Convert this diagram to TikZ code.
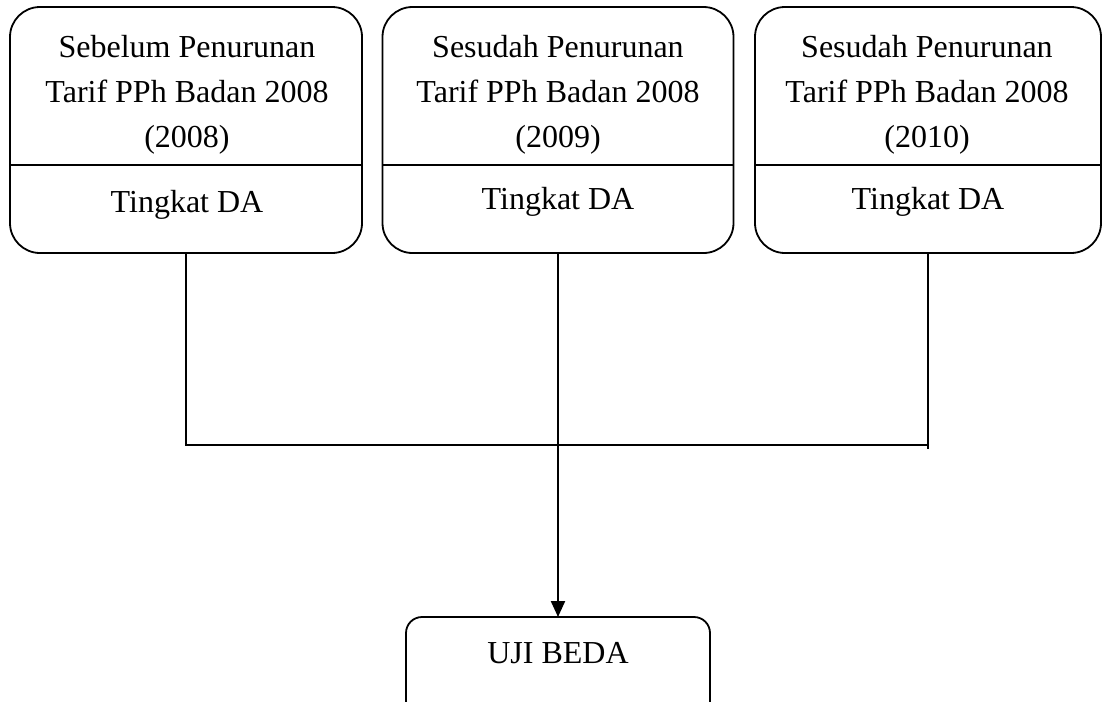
\documentclass[tikz,border=0pt]{standalone}
\usepackage{fontspec}
\setmainfont{Liberation Serif}
\usetikzlibrary{arrows.meta}
\begin{document}
\begin{tikzpicture}[x=1pt,y=-1pt,
  bigbox/.style={draw, line width=1.8pt, rounded corners=30pt, inner sep=0pt, outer sep=0pt, minimum height=246pt},
  smallbox/.style={draw, line width=1.8pt, rounded corners=16pt, inner sep=0pt, outer sep=0pt, minimum width=304pt, minimum height=100pt},
  txt/.style={align=center, inner sep=0pt, font=\fontsize{32}{45}\selectfont},
  conn/.style={line width=1.6pt},
  arr/.style={line width=2.2pt, -{Triangle[length=16pt,width=14pt]}}]
\useasboundingbox (0,0) rectangle (1104,702);
% boxes
\node[bigbox, minimum width=352pt] (b1) at (186,130) {};
\node[bigbox, minimum width=351pt] (b2) at (558,130) {};
\node[bigbox, minimum width=346pt] (b3) at (928,130) {};
\coordinate (dv) at (0,165);
\draw[line width=1.8pt] (b1.west |- dv) -- (b1.east |- dv);
\draw[line width=1.8pt] (b2.west |- dv) -- (b2.east |- dv);
\draw[line width=1.8pt] (b3.west |- dv) -- (b3.east |- dv);
% texts
\node[txt] (t1) at (187,95) {Sebelum Penurunan\\Tarif PPh Badan 2008\\(2008)};
\node[txt] (t2) at (558,95) {Sesudah Penurunan\\Tarif PPh Badan 2008\\(2009)};
\node[txt] (t3) at (927,95) {Sesudah Penurunan\\Tarif PPh Badan 2008\\(2010)};
\node[txt] (d1) at (187,205) {Tingkat DA};
\node[txt] (d2) at (558,202) {Tingkat DA};
\node[txt] (d3) at (928,202) {Tingkat DA};
% bottom box
\node[smallbox] (uji) at (558,667) {};
\node[txt] (ujit) at (558,653) {UJI BEDA};
% connectors
\coordinate (hl) at (0,445);
\coordinate (hr) at (0,449);
\draw[conn] (b1.south) -- (b1.south |- hl) -- (b3.south |- hl);
\draw[conn] (b3.south) -- (b3.south |- hr);
\draw[arr] (b2.south) -- (uji.north);
\end{tikzpicture}
\end{document}
